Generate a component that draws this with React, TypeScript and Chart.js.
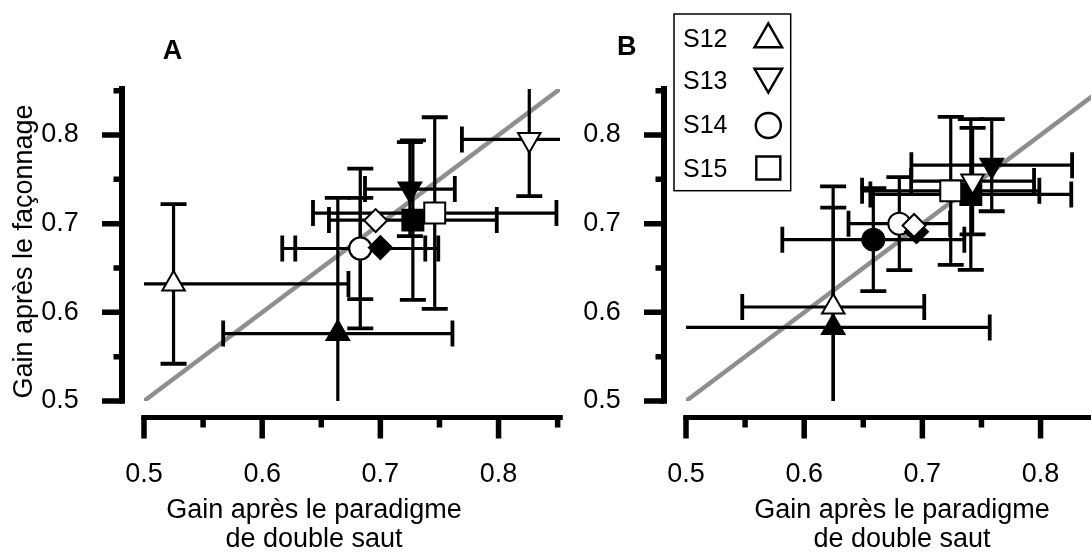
import React, { useEffect, useRef } from 'react';
import { Chart, registerables } from 'chart.js';

Chart.register(...registerables);

const FONT = '"Liberation Sans", Arial, Helvetica, sans-serif';
Chart.defaults.font.family = FONT;
Chart.defaults.font.size = 27;
Chart.defaults.color = '#000';

// ---------- data ----------
const subjects = ['S12', 'S13', 'S14', 'S15'];
const axisMin = 0.5;
const axisMax = 0.852;
const tickStep = 0.05;
const identityLine = [0.5, 0.9];

// Panel A (open / filled markers per subject, plus mean diamonds)
const aOpenX = [0.525, 0.826, 0.683, 0.746];
const aOpenY = [0.632, 0.795, 0.672, 0.712];
const aOpenXErr = [0.148, 0.057, 0.066, 0.103];
const aOpenYErr = [0.09, 0.064, 0.09, 0.108];
const aFilledX = [0.664, 0.725, 0.683, 0.7275];
const aFilledY = [0.576, 0.739, 0.672, 0.704];
const aFilledXErr = [0.097, 0.038, 0.055, 0.071];
const aFilledYErr = [0.153, 0.053, 0.057, 0.09];
const aMeanOpen = [0.696, 0.7035];
const aMeanFilled = [0.7, 0.673];

// Panel B
const bOpenX = [0.6246, 0.7425, 0.6805, 0.724];
const bOpenY = [0.606, 0.748, 0.7, 0.737];
const bOpenXErr = [0.077, 0.052, 0.043, 0.075];
const bOpenYErr = [0.112, 0.06, 0.0525, 0.0835];
const bFilledX = [0.6245, 0.7587, 0.6585, 0.741];
const bFilledY = [0.583, 0.766, 0.682, 0.733];
const bFilledXErr = [0.1325, 0.068, 0.077, 0.085];
const bFilledYErr = [0.159, 0.052, 0.058, 0.085];
const bMeanOpen = [0.693, 0.698];
const bMeanFilled = [0.695, 0.691];

const xTitleLines = ['Gain après le paradigme', 'de double saut'];
const yTitleText = 'Gain après le façonnage';

// ---------- styles ----------
const markerStyles = [
  { pointStyle: 'triangle', rotation: 0, radius: 13 },
  { pointStyle: 'triangle', rotation: 180, radius: 13 },
  { pointStyle: 'circle', rotation: 0, radius: 11 },
  { pointStyle: 'rect', rotation: 0, radius: 14.8 },
];

const isMajor = (v: number) => Math.abs(v * 10 - Math.round(v * 10)) < 1e-6;

function buildDatasets(
  ox: number[], oy: number[], oxe: number[], oye: number[],
  fx: number[], fy: number[], fxe: number[], fye: number[],
  meanOpen: number[], meanFilled: number[]
) {
  const ds: any[] = [];
  ds.push({
    type: 'line',
    label: 'identity',
    data: identityLine.map((v) => ({ x: v, y: v })),
    borderColor: '#8e8e8e',
    borderWidth: 4.5,
    pointRadius: 0,
    showLine: true,
    fill: false,
    clip: 0,
    order: 100,
  });
  subjects.forEach((s, i) => {
    const st = markerStyles[i];
    ds.push({
      label: s + ' filled',
      data: [{ x: fx[i], y: fy[i], xErr: fxe[i], yErr: fye[i] }],
      pointStyle: st.pointStyle,
      pointRotation: st.rotation,
      pointRadius: st.radius,
      backgroundColor: '#000',
      borderColor: '#000',
      borderWidth: 2,
      order: 60 - i,
    });
  });
  subjects.forEach((s, i) => {
    const st = markerStyles[i];
    ds.push({
      label: s + ' open',
      data: [{ x: ox[i], y: oy[i], xErr: oxe[i], yErr: oye[i] }],
      pointStyle: st.pointStyle,
      pointRotation: st.rotation,
      pointRadius: st.radius,
      backgroundColor: '#fff',
      borderColor: '#000',
      borderWidth: 2,
      order: 40 - i,
    });
  });
  ds.push({
    label: 'mean filled',
    data: [{ x: meanFilled[0], y: meanFilled[1] }],
    pointStyle: 'rectRot',
    pointRadius: 11.5,
    backgroundColor: '#000',
    borderColor: '#000',
    borderWidth: 2,
    order: 20,
  });
  ds.push({
    label: 'mean open',
    data: [{ x: meanOpen[0], y: meanOpen[1] }],
    pointStyle: 'rectRot',
    pointRadius: 11.5,
    backgroundColor: '#fff',
    borderColor: '#000',
    borderWidth: 2,
    order: 10,
  });
  return ds;
}

// ---------- plugins ----------
const errorBarPlugin = {
  id: 'errorBars',
  afterDatasetDraw(chart: any, args: any) {
    if (args.index !== 0) return;
    const { ctx, chartArea } = chart;
    const xs = chart.scales.x;
    const ys = chart.scales.y;
    ctx.save();
    ctx.beginPath();
    ctx.rect(chartArea.left, chartArea.top, chartArea.right - chartArea.left, chartArea.bottom - chartArea.top);
    ctx.clip();
    ctx.strokeStyle = '#000';
    const cap = 13;
    chart.data.datasets.forEach((ds: any) => {
      ds.data.forEach((p: any) => {
        if (p.xErr == null) return;
        const x = xs.getPixelForValue(p.x);
        const y = ys.getPixelForValue(p.y);
        const x0 = xs.getPixelForValue(p.x - p.xErr);
        const x1 = xs.getPixelForValue(p.x + p.xErr);
        const y0 = ys.getPixelForValue(p.y - p.yErr);
        const y1 = ys.getPixelForValue(p.y + p.yErr);
        ctx.lineWidth = 3.2;
        ctx.beginPath();
        ctx.moveTo(x0, y); ctx.lineTo(x1, y);
        ctx.moveTo(x, y0); ctx.lineTo(x, y1);
        ctx.stroke();
        ctx.lineWidth = 3.8;
        ctx.beginPath();
        ctx.moveTo(x0, y - cap); ctx.lineTo(x0, y + cap);
        ctx.moveTo(x1, y - cap); ctx.lineTo(x1, y + cap);
        ctx.moveTo(x - cap, y0); ctx.lineTo(x + cap, y0);
        ctx.moveTo(x - cap, y1); ctx.lineTo(x + cap, y1);
        ctx.stroke();
      });
    });
    ctx.restore();
  },
};

function drawSymbol(ctx: CanvasRenderingContext2D, kind: number, x: number, y: number) {
  ctx.beginPath();
  if (kind === 0 || kind === 1) {
    const r = 16;
    const dir = kind === 0 ? 1 : -1;
    ctx.moveTo(x, y - dir * r);
    ctx.lineTo(x + r * 0.866, y + dir * r / 2);
    ctx.lineTo(x - r * 0.866, y + dir * r / 2);
    ctx.closePath();
  } else if (kind === 2) {
    ctx.arc(x, y, 12.5, 0, Math.PI * 2);
  } else {
    ctx.rect(x - 12, y - 11.5, 24, 23);
  }
  ctx.fillStyle = '#fff';
  ctx.fill();
  ctx.stroke();
}

const decorPlugin = {
  id: 'decor',
  afterDraw(chart: any, _args: any, opts: any) {
    const { ctx, chartArea } = chart;
    const xs = chart.scales.x;
    const ys = chart.scales.y;
    ctx.save();
    ctx.strokeStyle = '#000';
    ctx.fillStyle = '#000';
    const xAxisY = chartArea.bottom + 16.5;
    const yAxisX = chartArea.left - 22;
    // axis lines
    ctx.lineCap = 'butt';
    ctx.lineWidth = 5;
    ctx.beginPath();
    ctx.moveTo(xs.getPixelForValue(axisMin) - 2.8, xAxisY);
    ctx.lineTo(xs.getPixelForValue(axisMax) + 2.8, xAxisY);
    ctx.stroke();
    ctx.lineWidth = 6;
    ctx.beginPath();
    ctx.moveTo(yAxisX, ys.getPixelForValue(axisMin) + 2.8);
    ctx.lineTo(yAxisX, ys.getPixelForValue(axisMax) - 2.8);
    ctx.stroke();
    // tick marks
    ctx.lineWidth = 5.5;
    ctx.beginPath();
    xs.ticks.forEach((t: any) => {
      const px = xs.getPixelForValue(t.value);
      ctx.moveTo(px, xAxisY);
      ctx.lineTo(px, xAxisY + (isMajor(t.value) ? 21 : 10));
    });
    ys.ticks.forEach((t: any) => {
      const py = ys.getPixelForValue(t.value);
      ctx.moveTo(yAxisX, py);
      ctx.lineTo(yAxisX - (isMajor(t.value) ? 20 : 8.5), py);
    });
    ctx.stroke();
    // panel letter
    ctx.font = `bold 27px ${FONT}`;
    ctx.textAlign = 'center';
    ctx.textBaseline = 'alphabetic';
    ctx.fillText(opts.letter, opts.letterX, opts.letterY);
    // x title
    ctx.font = `27px ${FONT}`;
    xTitleLines.forEach((line, i) => ctx.fillText(line, opts.xTitleX, opts.xTitleY + i * 29.5));
    // y title
    if (opts.showYTitle) {
      ctx.save();
      ctx.translate(opts.yTitleX, opts.yTitleY);
      ctx.rotate(-Math.PI / 2);
      ctx.fillText(yTitleText, 0, 0);
      ctx.restore();
    }
    // legend
    if (opts.legend) {
      const L = opts.legend;
      ctx.lineWidth = 1.5;
      ctx.strokeRect(L.x, L.y, L.w, L.h);
      ctx.font = `25px ${FONT}`;
      ctx.textAlign = 'left';
      subjects.forEach((s, i) => {
        ctx.fillStyle = '#000';
        ctx.fillText(s, L.textX, L.baselines[i]);
        ctx.lineWidth = 2.4;
        drawSymbol(ctx, i, L.symX, L.symY[i]);
      });
    }
    ctx.restore();
  },
};

function makeConfig(datasets: any[], decor: any) {
  const tickFont = () => ({ size: 27, family: FONT });
  return {
    type: 'scatter',
    data: { datasets },
    plugins: [errorBarPlugin, decorPlugin],
    options: {
      responsive: false,
      animation: false,
      events: [],
      layout: { autoPadding: false, padding: { top: 88.9, right: 6, left: 0, bottom: 0 } },
      plugins: { legend: { display: false }, tooltip: { enabled: false }, title: { display: false }, decor },
      scales: {
        x: {
          type: 'linear',
          min: axisMin,
          max: axisMax,
          grid: { display: false },
          border: { display: false },
          ticks: {
            stepSize: tickStep,
            includeBounds: false,
            autoSkip: false,
            maxRotation: 0,
            minRotation: 0,
            padding: 49.5,
            color: '#000',
            font: tickFont(),
            callback: (v: number) => (isMajor(v) ? Number(v).toFixed(1) : ''),
          },
          afterFit: (s: any) => { s.height = 151; s.paddingLeft = 0; s.paddingRight = 0; },
        },
        y: {
          type: 'linear',
          min: axisMin,
          max: axisMax,
          grid: { display: false },
          border: { display: false },
          ticks: {
            stepSize: tickStep,
            includeBounds: false,
            autoSkip: false,
            padding: 57.3,
            color: '#000',
            font: tickFont(),
            callback: (v: number) => (isMajor(v) ? Number(v).toFixed(1) : ''),
          },
          afterFit: (s: any) => { s.width = 144; s.paddingTop = 0; s.paddingBottom = 0; },
        },
      },
    },
  };
}

function PanelChart({ datasets, decor, left }: { datasets: any[]; decor: any; left: number }) {
  const ref = useRef<HTMLCanvasElement | null>(null);
  useEffect(() => {
    if (!ref.current) return;
    const chart = new Chart(ref.current, makeConfig(datasets, decor) as any);
    return () => chart.destroy();
  }, []);
  return (
    <canvas
      ref={ref}
      width={566}
      height={552}
      style={{ position: 'absolute', left, top: 0, width: 566, height: 552 }}
    />
  );
}

export default function App() {
  const dsA = buildDatasets(aOpenX, aOpenY, aOpenXErr, aOpenYErr, aFilledX, aFilledY, aFilledXErr, aFilledYErr, aMeanOpen, aMeanFilled);
  const dsB = buildDatasets(bOpenX, bOpenY, bOpenXErr, bOpenYErr, bFilledX, bFilledY, bFilledXErr, bFilledYErr, bMeanOpen, bMeanFilled);
  const decorA = {
    letter: 'A', letterX: 172.5, letterY: 59,
    xTitleX: 314, xTitleY: 517.5,
    showYTitle: true, yTitleX: 32, yTitleY: 251.5,
  };
  const decorB = {
    letter: 'B', letterX: 84.7, letterY: 55,
    xTitleX: 360, xTitleY: 517.5,
    showYTitle: false,
    legend: {
      x: 132, y: 14, w: 116.7, h: 176.7,
      textX: 141,
      baselines: [46.7, 89.3, 133.3, 176.7],
      symX: 226.3,
      symY: [39.3, 76.7, 125.5, 168],
    },
  };
  return (
    <div style={{ position: 'absolute', left: 0, top: 0, width: 1091, height: 552, overflow: 'hidden', background: '#fff' }}>
      <PanelChart datasets={dsA} decor={decorA} left={0} />
      <PanelChart datasets={dsB} decor={decorB} left={542} />
    </div>
  );
}
